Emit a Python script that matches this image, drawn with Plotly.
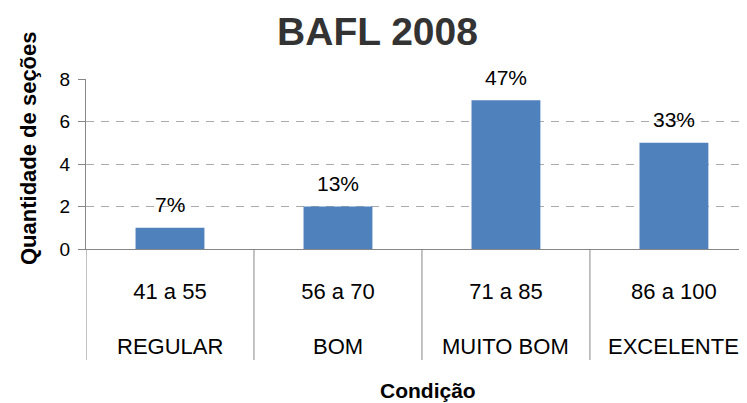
import plotly.graph_objects as go

# data
faixas = ["41 a 55", "56 a 70", "71 a 85", "86 a 100"]
condicoes = ["REGULAR", "BOM", "MUITO BOM", "EXCELENTE"]
secoes = [1, 2, 7, 5]
percentuais = ["7%", "13%", "47%", "33%"]

FONT = "Liberation Sans"
BAR_COLOR = "#4F81BD"
AXIS_GRAY = "#868686"

# the page adds an 8px body margin, so the figure is drawn 8px smaller
W, H = 739, 395
PLOT_L, PLOT_T, PLOT_B = 78, 71, 241
PLOT_H = PLOT_B - PLOT_T
PLOT_W = W - PLOT_L

fig = go.Figure()

fig.add_trace(go.Bar(
    x=faixas,
    y=secoes,
    marker=dict(color=BAR_COLOR, line=dict(width=0)),
    width=0.41,
    cliponaxis=False,
))

# percent labels above the bars
for f, v, p in zip(faixas, secoes, percentuais):
    fig.add_annotation(
        x=f, y=v, xref="x", yref="y", text=p, showarrow=False,
        yshift=23, yanchor="middle",
        font=dict(family=FONT, size=21, color="#000000"),
    )

# outer category level (condição)
for f, c in zip(faixas, condicoes):
    fig.add_annotation(
        x=f, y=-97 / PLOT_H, xref="x", yref="paper", text=c, showarrow=False,
        yanchor="middle",
        font=dict(family=FONT, size=22, color="#000000"),
    )

# group dividers below the axis
for i in range(len(faixas) + 1):
    fig.add_shape(
        type="line", xref="x", yref="paper",
        x0=i - 0.5, x1=i - 0.5, y0=0, y1=-111 / PLOT_H,
        line=dict(color=AXIS_GRAY, width=1),
    )

fig.update_layout(
    width=W, height=H,
    margin=dict(l=PLOT_L, r=0, t=PLOT_T, b=H - PLOT_B),
    paper_bgcolor="white",
    plot_bgcolor="white",
    showlegend=False,
    title=dict(
        text="<b>BAFL 2008</b>",
        font=dict(family=FONT, size=39, color="#333333"),
        x=0.5, xanchor="center",
        y=1 - 23 / H, yanchor="middle",
    ),
    font=dict(family=FONT, color="#000000"),
)

fig.update_xaxes(
    type="category",
    range=[-0.5, 3.435],
    automargin=False,
    showline=True, linecolor=AXIS_GRAY, linewidth=1,
    tickfont=dict(family=FONT, size=22, color="#000000"),
    ticks="", ticklabelstandoff=23, showgrid=False,
)

fig.update_yaxes(
    range=[0, 8],
    tickvals=[0, 2, 4, 6, 8],
    automargin=False,
    showline=True, linecolor=AXIS_GRAY, linewidth=1,
    ticks="outside", ticklen=7, tickcolor=AXIS_GRAY,
    tickfont=dict(family=FONT, size=19, color="#000000"),
    ticklabelstandoff=4,
    showgrid=True, gridcolor="#ABABAB", griddash="8px,7px", gridwidth=1,
    zeroline=False,
)

fig.add_annotation(
    text="<b>Quantidade de seções</b>",
    xref="paper", yref="paper",
    x=(28 - 86) / PLOT_W, y=(249 - 148) / PLOT_H,
    xanchor="center", yanchor="middle",
    textangle=-90, showarrow=False,
    font=dict(family=FONT, size=22, color="#000000"),
)

fig.add_annotation(
    text="<b>Condição</b>",
    xref="paper", yref="paper",
    x=(428 - 86) / PLOT_W, y=(249 - 390) / PLOT_H,
    xanchor="center", yanchor="middle",
    showarrow=False,
    font=dict(family=FONT, size=21, color="#000000"),
)

fig.write_html("out.html")
